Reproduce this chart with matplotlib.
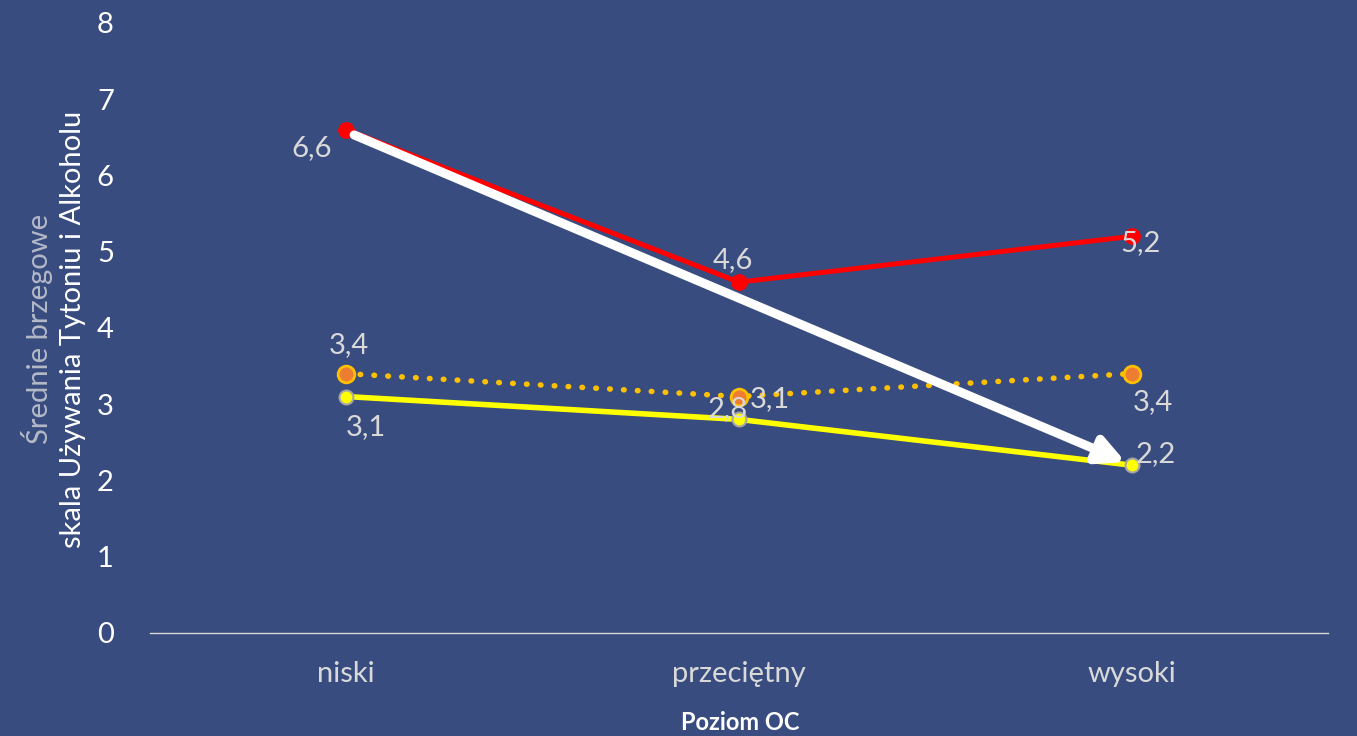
import matplotlib.pyplot as plt

plt.rcParams['font.family'] = ['Lato', 'DejaVu Sans']

categories = ['niski', 'przeciętny', 'wysoki']
red_vals = [6.6, 4.6, 5.2]
orange_vals = [3.4, 3.1, 3.4]
yellow_vals = [3.1, 2.8, 2.2]
y_ticks = [0, 1, 2, 3, 4, 5, 6, 7, 8]

bg = '#384C7F'
lbl = '#D9D9D9'

fig = plt.figure(figsize=(13.57, 7.36), dpi=100, facecolor=bg)
ax = fig.add_axes([0.1105, 0.14, 0.868, 0.829], facecolor=bg)

x = [0, 1, 2]
ax.plot(x, red_vals, color='#FF0000', lw=3.6, marker='o', ms=11,
        mfc='#FF0000', mec='#FF0000', zorder=3)
ax.plot(x, orange_vals, color='#FFC000', lw=4, ls=(0, (0.1, 2.4)),
        dash_capstyle='round', marker='o', ms=12, mfc='#ED7D31',
        mec='#FFC000', mew=2, zorder=3)
ax.plot(x, yellow_vals, color='#FFFF00', lw=4, marker='o', ms=10,
        mfc='#FFFF00', mec='#A6A6A6', mew=1.5, zorder=3)

# white trend arrow
ax.annotate('', xy=(1.985, 2.24), xytext=(0.02, 6.53),
            arrowprops=dict(arrowstyle='-|>,head_length=1.6,head_width=0.8',
                            color='white', lw=6.5, shrinkA=0, shrinkB=0),
            zorder=4)

# data labels (offsets in pixels)
offsets = {
    'red': [(-35, -18), (-6, 22), (9, -7)],
    'orange': [(3, 29), (31, -3), (21, -28)],
    'yellow': [(20, -31), (-11, 10), (24, 11)],
}
for key, vals in [('red', red_vals), ('orange', orange_vals), ('yellow', yellow_vals)]:
    for i, v in enumerate(vals):
        ax.annotate(f'{v:.1f}'.replace('.', ','), (x[i], v),
                    xytext=offsets[key][i], textcoords='offset pixels',
                    ha='center', va='center', color=lbl, fontsize=21, zorder=5)

ax.set_xlim(-0.5, 2.5)
ax.set_ylim(0, 8)
ax.set_xticks(x)
ax.set_xticklabels(categories)
ax.set_yticks(y_ticks)
ax.tick_params(length=0, labelsize=21, colors=lbl)
ax.tick_params(axis='y', colors='white', pad=26)
ax.tick_params(axis='x', pad=20)
for s in ['top', 'right', 'left']:
    ax.spines[s].set_visible(False)
ax.spines['bottom'].set_color('#D9D9D9')
ax.spines['bottom'].set_linewidth(1)

fig.text(0.5455, 0.018, 'Poziom OC', ha='center', va='center',
         color='white', fontsize=17, fontweight='bold')
fig.text(0.027, 0.553, 'Średnie brzegowe', rotation=90, ha='center', va='center',
         color='#B4B9C8', fontsize=21, fontweight='normal')
fig.text(0.054, 0.553, 'skala Używania Tytoniu i Alkoholu', rotation=90,
         ha='center', va='center', color='white', fontsize=21)

fig.savefig('out.png', dpi=100, facecolor=bg)
